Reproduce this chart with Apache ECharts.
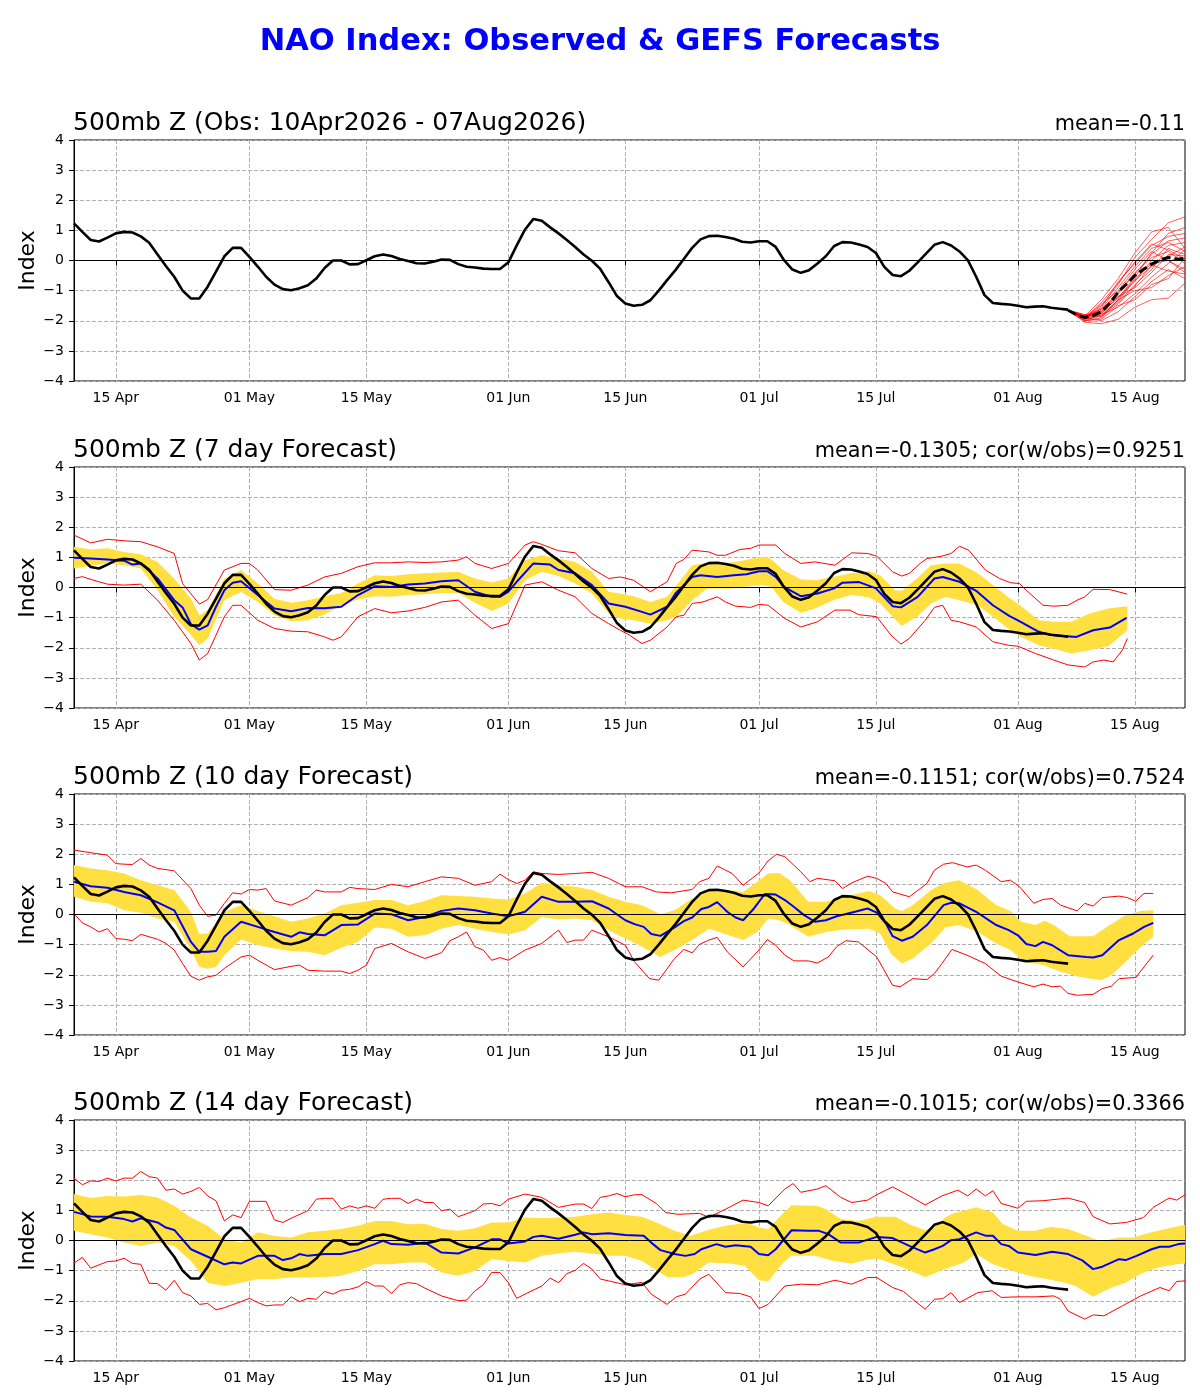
<!DOCTYPE html>
<html>
<head>
<meta charset="utf-8">
<script src="https://cdn.jsdelivr.net/npm/echarts@6/dist/echarts.min.js"></script>
<style>
html, body { margin: 0; padding: 0; background: #fff; }
#main { width: 1200px; height: 1400px; }
</style>
</head>
<body>
<div id="main"></div>
<script>
// x 轴: 距 2026-04-10 的天数
const tickDays = [5, 21, 35, 52, 66, 82, 96, 113, 127]
const tickLabels = ['15 Apr', '01 May', '15 May', '01 Jun', '15 Jun', '01 Jul', '15 Jul', '01 Aug', '15 Aug']

const panelTitles = ['500mb Z (Obs: 10Apr2026 - 07Aug2026)', '500mb Z (7 day Forecast)', '500mb Z (10 day Forecast)', '500mb Z (14 day Forecast)']
const panelStats = ['mean=-0.11', 'mean=-0.1305; cor(w/obs)=0.9251', 'mean=-0.1151; cor(w/obs)=0.7524', 'mean=-0.1015; cor(w/obs)=0.3366']

// 观测值 (每日, 从第0天开始)
const obs = [
  1.23, 0.95, 0.68, 0.63, 0.76, 0.9, 0.95, 0.93, 0.8, 0.59,
  0.2, -0.18, -0.54, -1.0, -1.26, -1.26, -0.87, -0.37, 0.14, 0.42,
  0.42, 0.12, -0.2, -0.54, -0.8, -0.95, -0.99, -0.92, -0.82, -0.6,
  -0.25, 0.0, 0.0, -0.13, -0.12, 0.01, 0.14, 0.2, 0.15, 0.05,
  -0.02, -0.09, -0.1, -0.04, 0.03, 0.02, -0.12, -0.21, -0.23, -0.27,
  -0.28, -0.28, -0.06, 0.5, 1.03, 1.38, 1.32, 1.1, 0.9, 0.68,
  0.45, 0.2, -0.01, -0.28, -0.72, -1.18, -1.43, -1.5, -1.47, -1.32,
  -1.0, -0.65, -0.32, 0.05, 0.42, 0.7, 0.81, 0.82, 0.78, 0.72,
  0.62, 0.6, 0.64, 0.64, 0.45, 0.01, -0.3, -0.41, -0.32, -0.1,
  0.14, 0.48, 0.61, 0.6, 0.53, 0.45, 0.25, -0.21, -0.48, -0.52,
  -0.34, -0.06, 0.23, 0.52, 0.61, 0.5, 0.3, 0.01, -0.54, -1.15,
  -1.41, -1.44, -1.46, -1.5, -1.55, -1.53, -1.52, -1.57, -1.6, -1.63
]

// GEFS 集合预报 (第1幅图)
const ensMeanStart = 119
const ensMean = [-1.65, -1.8, -1.89, -1.83, -1.7, -1.42, -1.05, -0.78, -0.5, -0.3, -0.12, 0.02, 0.1, 0.04, 0.07]
const ensDays = [119, 121, 123, 125, 127, 129, 131, 133]
const ensMembers = [
  [-1.65, -1.85, -1.3, -0.6, 0.25, 0.95, 1.1, 0.4],
  [-1.65, -1.9, -1.5, -0.8, 0.1, 0.7, 1.25, 1.45],
  [-1.65, -1.95, -1.6, -0.9, -0.2, 0.4, 0.6, 0.3],
  [-1.65, -1.8, -1.7, -1.1, -0.4, 0.1, 0.3, -0.1],
  [-1.65, -2.0, -1.9, -1.3, -0.6, -0.1, 0.0, -0.3],
  [-1.65, -1.85, -1.75, -1.2, -0.9, -0.4, 0.2, 0.15],
  [-1.65, -1.9, -2.0, -1.7, -1.2, -0.7, -0.3, -0.6],
  [-1.65, -2.05, -2.1, -1.95, -1.55, -1.3, -1.25, -0.75],
  [-1.65, -1.85, -1.6, -1.2, -0.7, 0.0, 0.5, 0.6],
  [-1.65, -1.9, -1.8, -1.4, -0.8, -0.3, 0.4, 0.2],
  [-1.65, -1.95, -1.55, -0.7, -0.1, 0.5, 0.8, 0.9],
  [-1.65, -1.8, -1.85, -1.3, -1.0, -0.9, -0.5, -0.2],
  [-1.65, -1.9, -1.45, -1.0, -0.3, 0.3, 0.0, -0.4],
  [-1.65, -2.0, -1.95, -1.5, -1.3, -0.8, -0.6, 0.1],
  [-1.65, -1.85, -1.65, -1.05, -0.45, 0.2, 0.65, 0.75],
  [-1.65, -1.95, -1.75, -1.35, -0.65, -0.2, 0.15, 0.45],
  [-1.65, -1.9, -1.4, -0.75, -0.05, 0.55, 0.35, 0.05],
  [-1.65, -2.0, -1.8, -1.55, -1.1, -0.55, -0.1, 0.35],
  [-1.65, -1.85, -1.7, -1.25, -0.55, 0.25, 0.9, 1.1],
  [-1.65, -1.95, -1.85, -1.45, -0.85, -0.15, -0.35, -0.45]
]

// 7 天预报: [天, 值]
const p7Blue = [[0,0.99],[2,0.96],[4,0.93],[6,0.89],[7,0.76],[8,0.8],[10,0.3],[12,-0.42],[13,-0.66],[14,-1.22],[15,-1.4],[16,-1.26],[17,-0.64],[18,-0.09],[19,0.16],[20,0.21],[22,-0.25],[24,-0.7],[26,-0.79],[28,-0.68],[30,-0.69],[32,-0.64],[34,-0.25],[36,0.04],[38,0.02],[40,0.1],[42,0.13],[44,0.21],[46,0.24],[48,-0.14],[50,-0.31],[51,-0.31],[52,-0.14],[53,0.19],[55,0.8],[56,0.78],[57,0.76],[58,0.58],[60,0.47],[62,0.08],[64,-0.53],[66,-0.64],[68,-0.81],[69,-0.9],[71,-0.64],[72,-0.2],[74,0.35],[75,0.41],[77,0.35],[79,0.41],[80.5,0.44],[82,0.54],[83,0.54],[84,0.35],[85,0.02],[87,-0.29],[89,-0.2],[91,-0.03],[92,0.16],[94,0.18],[96,-0.03],[98,-0.62],[99,-0.66],[101,-0.31],[103,0.3],[104,0.35],[106,0.19],[108,-0.11],[110,-0.59],[112,-0.95],[113,-1.09],[115.5,-1.47],[117,-1.58],[120,-1.64],[122,-1.42],[124,-1.33],[126,-1.01]]
const p7Hi = [[0,1.35],[2,1.26],[4,1.3],[6,1.18],[8,1.1],[10,0.85],[12,0.3],[14,-0.37],[15,-0.92],[16,-0.75],[18,0.3],[20,0.58],[22,0.13],[24,-0.37],[26,-0.51],[28,-0.42],[30,-0.29],[32,-0.18],[34,0.13],[36,0.41],[38,0.38],[40,0.44],[42,0.47],[44,0.5],[46,0.52],[48,0.3],[50,0.17],[52,0.3],[54,0.91],[56,1.07],[58,0.96],[60,0.85],[62,0.52],[64,-0.14],[65.4,-0.2],[67,-0.29],[69,-0.48],[71,-0.31],[72.3,0.13],[74,0.74],[75.8,0.82],[78.5,0.82],[80,0.89],[82.3,1.02],[83.2,1.0],[84.9,0.58],[87,0.27],[88.7,0.24],[90.9,0.35],[93,0.47],[95.2,0.55],[96.5,0.41],[98.3,-0.09],[99.1,-0.11],[100.9,0.3],[102.6,0.74],[104.3,0.8],[106,0.8],[108.2,0.47],[110,0.08],[112.1,-0.37],[113.4,-0.62],[115.5,-1.09],[117.3,-1.14],[119.4,-1.14],[121.6,-0.86],[123.8,-0.7],[126.1,-0.62]]
const p7Lo = [[0,0.63],[2,0.71],[4,0.8],[6,0.74],[8,0.63],[10,-0.09],[12,-0.97],[14,-1.58],[15,-1.92],[16,-1.69],[18,-0.42],[20,-0.14],[22,-0.48],[24,-0.92],[26,-1.12],[28,-1.09],[30,-0.9],[32,-0.59],[34,-0.4],[36,-0.29],[38,-0.31],[40,-0.25],[42,-0.22],[44,-0.18],[46,-0.18],[48,-0.51],[50,-0.78],[52,-0.53],[54,0.24],[56,0.52],[58,0.38],[60,0.13],[62,-0.2],[64,-0.86],[65.4,-1.03],[67,-1.09],[69,-1.2],[71,-1.09],[72.3,-0.92],[74,-0.42],[75.8,-0.03],[78.5,-0.03],[80,0.02],[82.3,0.08],[83.5,0.02],[84.9,-0.48],[87,-0.84],[88.7,-0.7],[90.9,-0.42],[93,-0.25],[95.2,-0.33],[96.5,-0.53],[98.3,-1.05],[99.1,-1.28],[100.9,-0.97],[102.6,-0.53],[104.3,-0.31],[106,-0.42],[108.2,-0.59],[110,-0.97],[112.1,-1.42],[113.4,-1.64],[115.5,-1.92],[117.3,-2.03],[119.4,-2.19],[121.6,-2.08],[123.8,-1.95],[126.1,-1.42]]
const p7RedHi = [[0,1.74],[2,1.48],[4,1.6],[6,1.55],[8,1.52],[10,1.35],[12,1.13],[13,0.13],[15,-0.55],[16,-0.4],[18,0.58],[20,0.8],[21,0.8],[22,0.58],[24,-0.07],[26,-0.09],[28,0.08],[30,0.35],[32,0.47],[34,0.69],[36,0.82],[38,0.82],[40,0.85],[42,0.83],[44,0.85],[46,0.91],[47,1.02],[48,0.8],[50,0.63],[52,0.8],[54,1.41],[55,1.52],[56,1.43],[58,1.22],[60,1.15],[62,0.63],[64,0.3],[65.4,0.35],[67,0.24],[69,-0.14],[71,0.19],[72.1,0.8],[73,0.93],[74,1.24],[76,1.18],[77,1.07],[78,1.07],[79.7,1.26],[81,1.3],[82,1.41],[84,1.41],[85.1,1.13],[87,0.8],[88.7,0.85],[91.1,0.74],[93.1,1.15],[95,1.13],[96.1,1.04],[98,0.52],[99.1,0.38],[100,0.47],[101.3,0.8],[102.1,0.96],[103.9,1.04],[105,1.13],[106,1.37],[107.1,1.24],[109.1,0.58],[110.8,0.3],[112.1,0.16],[113.2,0.13],[114,-0.09],[116,-0.59],[117.3,-0.62],[119,-0.59],[120.1,-0.42],[121,-0.31],[122,-0.06],[124,-0.07],[126.1,-0.22]]
const p7RedLo = [[0,0.3],[1,0.36],[2,0.27],[4,0.11],[6,0.08],[8,0.11],[10,-0.42],[12,-1.09],[14,-1.86],[15,-2.41],[16,-2.19],[18,-0.97],[19,-0.59],[20,-0.59],[22,-1.09],[24,-1.36],[26,-1.45],[28,-1.47],[30,-1.64],[31,-1.75],[32,-1.64],[34,-0.97],[36,-0.7],[38,-0.84],[40,-0.78],[42,-0.66],[44,-0.48],[46,-0.42],[48,-0.92],[50,-1.36],[52,-1.2],[54,0.08],[56,0.19],[58,-0.09],[60,-0.31],[62,-0.86],[64,-1.2],[65.4,-1.42],[66.5,-1.58],[68,-1.86],[69,-1.75],[71,-1.31],[72.1,-0.97],[73,-0.92],[74,-0.53],[75.3,-0.48],[77,-0.31],[78,-0.48],[79.2,-0.62],[81,-0.66],[82,-0.56],[83.1,-0.59],[85.1,-1.03],[87,-1.31],[89,-1.14],[91.1,-0.75],[92.9,-0.75],[93.9,-0.9],[96.1,-0.97],[97.8,-1.58],[99,-1.88],[100,-1.69],[101.9,-1.09],[103,-0.66],[104,-0.59],[105,-1.09],[106,-1.14],[108,-1.31],[110,-1.8],[111.9,-1.92],[113,-1.95],[115.1,-2.19],[117.3,-2.41],[119,-2.57],[121,-2.64],[122,-2.47],[123.3,-2.41],[124.4,-2.47],[125.5,-2.08],[126.1,-1.69]]

// 10 天预报
const p10Blue = [[0,1.09],[2,0.94],[4,0.89],[6,0.75],[8,0.64],[10,0.4],[12,0.14],[14,-0.91],[15,-1.24],[16,-1.24],[17,-1.21],[18,-0.74],[20,-0.24],[22,-0.41],[24,-0.58],[26,-0.74],[27,-0.59],[28,-0.65],[30,-0.69],[32,-0.35],[34,-0.33],[36,0.03],[38,0.01],[40,-0.19],[42,-0.08],[44,0.12],[46,0.2],[48,0.14],[50,0.03],[52,-0.06],[54,0.09],[56,0.59],[58,0.42],[60,0.42],[62,0.44],[64,0.2],[66,-0.19],[67.1,-0.32],[68.2,-0.41],[69.1,-0.65],[70.2,-0.71],[71.9,-0.43],[73,-0.22],[74,-0.1],[75.1,0.18],[76,0.25],[77,0.41],[78.2,0.09],[79.2,-0.1],[80.1,-0.19],[81.4,0.2],[82.7,0.68],[84,0.66],[85.1,0.48],[86.2,0.25],[87.4,-0.02],[88.7,-0.24],[90,-0.19],[91.3,-0.06],[93.5,0.09],[95,0.2],[96.1,0.06],[97.2,-0.3],[98,-0.72],[99.1,-0.87],[100.4,-0.74],[102.1,-0.35],[104.1,0.31],[105,0.39],[106,0.37],[108,0.09],[110.4,-0.35],[111.9,-0.52],[113,-0.69],[114,-0.98],[115.1,-1.05],[116,-0.91],[117.1,-1.02],[119,-1.35],[121.2,-1.41],[122,-1.43],[123.1,-1.35],[125.1,-0.85],[126.8,-0.63],[128.1,-0.41],[129.2,-0.28]]
const p10Hi = [[0,1.64],[2,1.53],[4,1.47],[6,1.36],[8,1.14],[10,0.97],[12,0.81],[14,0.09],[15,-0.65],[16,-0.63],[18,0.09],[20,0.31],[22,0.12],[24,-0.06],[26,-0.24],[28,-0.13],[30,0.03],[32,0.31],[34,0.39],[36,0.48],[38,0.48],[40,0.31],[42,0.45],[44,0.64],[46,0.61],[48,0.59],[50,0.53],[52,0.5],[54,0.7],[56,1.05],[58,0.97],[60,0.92],[62,0.81],[64,0.59],[66,0.42],[68,0.31],[70.2,0.01],[71.9,0.14],[74,0.53],[76.2,0.81],[78.4,0.81],[80.1,0.75],[81.8,1.09],[83.1,1.36],[84.4,1.38],[85.7,1.14],[87.9,0.42],[90,0.42],[92.2,0.59],[95.2,0.78],[96.5,0.64],[98.3,0.2],[99.1,0.12],[100.4,0.31],[102.6,0.81],[104.3,1.05],[106,1.14],[108.2,0.81],[110.4,0.31],[112.1,0.12],[113.4,-0.24],[115.1,-0.35],[116.2,-0.21],[117.3,-0.35],[119.2,-0.72],[122,-0.72],[124,-0.35],[125.9,-0.02],[127.7,0.12],[129.2,0.14]]
const p10Lo = [[0,0.59],[2,0.42],[4,0.37],[6,0.14],[8,0.06],[10,-0.13],[12,-0.24],[14,-1.18],[15,-1.74],[16,-1.8],[17,-1.74],[18,-1.35],[20,-0.83],[22,-1.02],[24,-1.13],[26,-1.22],[28,-1.24],[30,-1.35],[32,-1.1],[34,-0.91],[36,-0.43],[38,-0.47],[40,-0.74],[42,-0.69],[44,-0.47],[46,-0.35],[48,-0.47],[50,-0.58],[52,-0.66],[54,-0.52],[56,-0.08],[58,-0.17],[60,-0.13],[62,-0.19],[64,-0.52],[66,-0.8],[68,-1.07],[70.2,-1.41],[71.9,-1.18],[74,-0.85],[76,-0.47],[78.4,-0.69],[80.1,-0.85],[81.8,-0.58],[83.1,-0.13],[84.4,-0.19],[85.7,-0.35],[87.9,-0.74],[90,-0.58],[92.2,-0.5],[95.2,-0.47],[96.5,-0.63],[97.8,-1.3],[99.1,-1.63],[100.4,-1.46],[102.6,-0.96],[104.3,-0.43],[106,-0.35],[108.2,-0.58],[110.4,-0.96],[112.1,-1.18],[113.8,-1.57],[116,-1.68],[118.1,-1.9],[120.3,-2.07],[122.9,-2.18],[124.2,-2.02],[125.9,-1.57],[127.7,-1.07],[129.2,-0.74]]
const p10RedHi = [[0,2.14],[2,2.05],[4,1.97],[5,1.69],[6,1.67],[7,1.66],[8,1.86],[9,1.64],[10,1.53],[12,1.45],[14,0.86],[15,0.31],[16,-0.06],[17,-0.02],[18,0.37],[19,0.72],[20,0.68],[21,0.83],[22,0.81],[23,0.86],[24,0.45],[26,0.31],[28,0.56],[29,0.81],[30,0.75],[32,0.75],[33,0.9],[34,0.86],[36,0.83],[38,1.0],[40,0.92],[42,1.09],[44,1.25],[46,1.2],[48,0.97],[50,1.09],[51,1.34],[52,1.16],[53,1.03],[54,1.14],[55,1.42],[56,1.36],[58,1.33],[60,1.36],[62,1.4],[64,1.2],[66,0.92],[68,0.92],[69.7,0.75],[71.5,0.72],[74,0.83],[74.9,1.09],[76,1.2],[77,1.61],[78.8,1.36],[80.1,0.97],[82,1.38],[83.1,1.78],[84.1,2.0],[85.1,1.92],[87,1.42],[88.1,1.09],[89,1.2],[91.1,1.12],[92,0.86],[93.1,1.05],[95,1.27],[96.1,1.2],[97.2,1.03],[98,0.75],[100,0.59],[101.3,0.86],[102.1,1.03],[103,1.47],[104.1,1.67],[105.2,1.72],[106.9,1.58],[108,1.64],[109.1,1.47],[111,1.09],[112.1,1.14],[113.2,0.92],[114.9,0.37],[116,0.5],[117.1,0.53],[118.1,0.31],[120.1,0.12],[121,0.37],[122,0.28],[123.1,0.56],[125.1,0.61],[126.1,0.56],[127.1,0.44],[128.1,0.7],[129.2,0.7]]
const p10RedLo = [[0,0.03],[1,-0.28],[2,-0.41],[3,-0.58],[4,-0.47],[5,-0.8],[6,-0.82],[7,-0.87],[8,-0.66],[9,-0.74],[10,-0.82],[11,-0.96],[12,-1.18],[13,-1.63],[14,-2.05],[15,-2.18],[16,-2.07],[17,-2.02],[18,-1.79],[20,-1.41],[21,-1.35],[22,-1.52],[24,-1.83],[26,-1.72],[27,-1.68],[28,-1.85],[30,-1.88],[32,-1.88],[33,-1.96],[34,-1.85],[35,-1.68],[36,-1.13],[38,-0.96],[40,-1.24],[42,-1.46],[44,-1.27],[45,-0.87],[46,-0.74],[47,-0.58],[48,-1.07],[49,-1.18],[50,-1.52],[51,-1.43],[52,-1.52],[54,-1.18],[56,-0.96],[58,-0.52],[59,-0.93],[60,-0.85],[61,-0.85],[62,-0.52],[64,-0.74],[66,-1.02],[67.1,-1.57],[68.9,-2.13],[70,-2.18],[71.9,-1.46],[73,-1.16],[74,-1.27],[74.9,-0.99],[76,-0.85],[77,-0.76],[78.2,-1.24],[80.1,-1.74],[82,-1.18],[83,-0.83],[84,-1.02],[85.1,-1.35],[86.2,-1.54],[87.9,-1.54],[89,-1.61],[90.3,-1.41],[91.3,-1.07],[92.4,-0.87],[93.9,-0.91],[96.1,-1.41],[98,-2.35],[98.9,-2.4],[100.4,-2.13],[102.1,-2.16],[103,-1.96],[103.9,-1.63],[105.1,-1.16],[106.9,-1.35],[109.1,-1.63],[111,-2.05],[113,-2.24],[114.9,-2.4],[116,-2.31],[117.1,-2.4],[118.1,-2.38],[119,-2.62],[120.1,-2.68],[122,-2.65],[123.1,-2.46],[124.2,-2.38],[125.1,-2.13],[127.1,-2.09],[128.1,-1.74],[129.2,-1.35]]

// 14 天预报
const p14Blue = [[0,0.95],[2,0.8],[4,0.79],[6,0.71],[7,0.63],[8,0.74],[10,0.6],[11,0.43],[12,0.35],[14,-0.29],[16,-0.54],[18,-0.79],[19,-0.73],[20,-0.76],[22,-0.51],[24,-0.51],[25,-0.65],[26,-0.59],[27,-0.45],[28,-0.51],[30,-0.45],[32,-0.45],[34,-0.32],[36,-0.12],[37,-0.01],[38,-0.12],[40,-0.14],[42,-0.07],[44,-0.4],[46,-0.43],[48,-0.23],[50,0.04],[51,0.04],[52,-0.1],[54,-0.03],[55,0.12],[56,0.16],[58,0.06],[60,0.19],[61,0.27],[62,0.21],[64,0.24],[66,0.18],[68.2,0.16],[69.1,-0.07],[70.2,-0.32],[71.9,-0.45],[73.2,-0.51],[74.3,-0.45],[75.1,-0.29],[76.9,-0.12],[78,-0.21],[79.2,-0.16],[81,-0.21],[82,-0.45],[83.1,-0.49],[84,-0.29],[85.9,0.34],[87.9,0.32],[89.2,0.32],[90.3,0.21],[91.8,-0.07],[93.9,-0.07],[96.1,0.12],[98,0.08],[100,-0.18],[101.9,-0.4],[103,-0.29],[104,-0.18],[105,0.01],[106,0.04],[108,0.27],[109.1,0.16],[110,0.16],[111,-0.12],[111.9,-0.18],[113,-0.4],[115.1,-0.48],[117.1,-0.37],[119,-0.45],[120.7,-0.66],[122,-0.95],[123.1,-0.87],[125.1,-0.62],[125.9,-0.65],[127.2,-0.51],[129,-0.29],[130,-0.21],[131.1,-0.21],[132.2,-0.12],[133,-0.1]]
const p14Hi = [[0,1.54],[2,1.41],[4,1.48],[6,1.46],[8,1.51],[10,1.43],[12,1.15],[14,0.76],[16,0.49],[18,0.04],[20,-0.07],[22,0.27],[24,0.15],[26,0.1],[28,0.27],[30,0.32],[32,0.38],[34,0.49],[36,0.65],[38,0.65],[40,0.54],[42,0.56],[44,0.38],[46,0.32],[48,0.41],[50,0.6],[52,0.6],[54,0.76],[56,0.74],[58,0.76],[60,0.79],[62,0.87],[64,0.93],[66,0.85],[68,0.79],[69.7,0.6],[71.9,0.32],[73.8,0.16],[75.8,0.34],[78,0.49],[79.7,0.56],[81,0.54],[82,0.43],[83.1,0.38],[84.4,0.76],[85.9,1.17],[89,1.15],[90,1.04],[91.8,0.71],[93.9,0.65],[96.1,0.79],[98.3,0.79],[100,0.54],[101.9,0.34],[103,0.43],[104.3,0.76],[105.2,0.9],[108,1.1],[110,0.93],[111.2,0.54],[113,0.32],[115.1,0.32],[116.9,0.45],[119,0.38],[121.2,0.16],[122.9,-0.03],[125.1,0.1],[126.8,0.1],[129,0.27],[131.1,0.41],[133,0.52]]
const p14Lo = [[0,0.32],[2,0.21],[4,0.1],[6,-0.07],[8,-0.18],[10,-0.07],[12,-0.18],[14,-0.68],[16,-1.4],[18,-1.51],[20,-1.4],[22,-1.28],[24,-1.28],[26,-1.23],[28,-1.23],[30,-1.21],[32,-1.17],[34,-1.01],[36,-0.79],[38,-0.79],[40,-0.73],[42,-0.73],[44,-1.06],[46,-1.17],[48,-1.01],[50,-0.62],[52,-0.68],[54,-0.73],[56,-0.51],[58,-0.43],[60,-0.37],[62,-0.43],[64,-0.51],[66,-0.51],[68,-0.68],[69.7,-0.99],[71,-1.21],[73,-1.21],[74,-1.12],[76,-0.73],[78.4,-0.76],[80.3,-0.84],[82,-1.32],[83.1,-1.36],[84.9,-0.73],[85.9,-0.51],[88.7,-0.51],[90.9,-0.68],[93.1,-0.76],[95.2,-0.62],[96.5,-0.62],[99.1,-0.89],[101.9,-1.21],[104.3,-0.95],[106.5,-0.73],[108,-0.45],[110,-0.79],[112.1,-0.99],[114.3,-1.17],[116.4,-1.28],[118.6,-1.4],[119.9,-1.51],[122,-1.87],[124.2,-1.56],[125.9,-1.4],[127.7,-1.1],[129.8,-0.9],[132,-0.79],[133,-0.76]]
const p14RedHi = [[0,2.07],[1,1.85],[2,1.98],[3,1.96],[4,2.07],[5,1.98],[6,2.07],[7,2.07],[8,2.29],[9,2.12],[10,2.07],[11,1.67],[12,1.71],[13,1.54],[14,1.63],[15,1.76],[16,1.48],[17,1.32],[18,0.65],[19,0.85],[20,0.76],[21,1.3],[22,1.3],[23,1.3],[24,0.68],[25,0.6],[26,0.74],[28,0.99],[29,1.37],[30,1.4],[31,1.4],[32,1.04],[33,1.15],[34,1.07],[35,1.15],[36,1.07],[37,1.37],[38,1.4],[39,1.4],[40,1.23],[41,1.37],[42,1.26],[43,1.26],[44,0.99],[45,1.04],[46,0.79],[48,0.99],[49,1.21],[50,1.23],[51,1.15],[52,1.37],[54,1.54],[56,1.43],[58,1.1],[60,1.21],[61,1.21],[62,1.06],[63,1.43],[64,1.48],[65,1.56],[66,1.45],[67.1,1.52],[68,1.52],[69.7,1.23],[70.8,0.93],[72.3,0.87],[74.9,0.9],[76,0.77],[78,1.04],[80.1,1.34],[82,1.26],[83.1,1.15],[85.1,1.71],[86.1,1.89],[87,1.6],[89,1.71],[90,1.82],[91.8,1.43],[93.1,1.26],[95,1.34],[96.1,1.52],[98,1.78],[100,1.48],[101.9,1.18],[103.9,1.48],[105.8,1.67],[107,1.48],[108,1.71],[109.1,1.48],[110,1.65],[111,1.23],[113,1.07],[114,1.3],[116,1.32],[119,1.41],[121,1.26],[122,0.79],[124,0.55],[126,0.6],[128,0.76],[129.2,1.1],[131.1,1.41],[132,1.34],[133,1.52]]
const p14RedLo = [[0,-0.75],[1,-0.56],[2,-0.92],[3,-0.81],[4,-0.7],[5,-0.68],[6,-0.59],[7,-0.76],[8,-0.79],[9,-1.42],[10,-1.43],[11,-1.65],[12,-1.32],[13,-1.73],[14,-1.84],[15,-2.12],[16,-2.09],[17,-2.3],[18,-2.23],[20,-2.03],[21,-1.92],[22,-2.06],[23,-2.17],[24,-2.14],[25,-2.14],[26,-1.87],[27,-2.03],[28,-1.92],[29,-1.95],[30,-1.69],[31,-1.78],[32,-1.65],[33,-1.62],[34,-1.54],[35,-1.36],[36,-1.51],[37,-1.51],[38,-1.76],[39,-1.47],[40,-1.4],[41,-1.43],[42,-1.58],[44,-1.84],[46,-2.0],[47,-1.98],[48,-1.67],[49,-1.47],[50,-1.06],[51,-1.06],[52,-1.4],[53,-1.92],[54,-1.78],[56,-1.51],[57,-1.25],[58,-1.4],[59,-1.1],[60,-0.99],[61,-0.76],[62,-0.95],[63,-1.28],[64,-1.34],[66,-1.47],[68,-1.39],[69.1,-1.78],[71,-2.12],[72.1,-1.87],[73.2,-1.78],[74.9,-1.28],[76,-1.12],[78,-1.73],[79.7,-1.76],[81,-1.87],[82,-2.26],[83.1,-2.12],[85.1,-1.51],[87,-1.45],[89,-1.47],[91.1,-1.32],[93.1,-1.45],[95,-1.23],[96.1,-1.23],[98,-1.56],[99.3,-1.69],[100.4,-1.95],[101.9,-2.28],[103,-1.95],[104,-1.93],[105,-1.73],[106,-2.06],[108.2,-1.73],[109.9,-1.67],[111,-1.89],[113,-1.87],[115.1,-1.87],[117.3,-1.84],[118.1,-1.95],[119,-2.34],[121,-2.61],[122,-2.47],[123.3,-2.5],[125.5,-2.17],[127.7,-1.84],[130,-1.56],[131.1,-1.67],[132,-1.36],[133,-1.34]]

const forecasts = [
  { blue: p7Blue, hi: p7Hi, lo: p7Lo, redHi: p7RedHi, redLo: p7RedLo },
  { blue: p10Blue, hi: p10Hi, lo: p10Lo, redHi: p10RedHi, redLo: p10RedLo },
  { blue: p14Blue, hi: p14Hi, lo: p14Lo, redHi: p14RedHi, redLo: p14RedLo }
]

const panelTops = [140, 467, 794, 1120]
const font = 'DejaVu Sans'

const minus = v => (v < 0 ? '\u2212' + (-v) : String(v))

const lineSeries = (i, data, color, width, z, extra) => Object.assign({
  type: 'line',
  xAxisIndex: i,
  yAxisIndex: i,
  data: data,
  showSymbol: false,
  symbol: 'none',
  silent: true,
  z: z,
  lineStyle: { color: color, width: width }
}, extra || {})

// 黄色区间: 用多边形画 hi / lo 之间的区域
const bandSeries = (i, hi, lo) => ({
  type: 'custom',
  xAxisIndex: i,
  yAxisIndex: i,
  silent: true,
  z: 1,
  clip: true,
  data: [[hi[0][0], hi[0][1]]],
  renderItem (params, api) {
    const pts = hi.map(p => api.coord(p)).concat(lo.slice().reverse().map(p => api.coord(p)))
    return { type: 'polygon', shape: { points: pts }, style: { fill: '#ffe040' } }
  }
})

const obsData = obs.map((v, d) => [d, v])
const zeroLine = {
  silent: true,
  symbol: 'none',
  label: { show: false },
  lineStyle: { color: '#000', width: 1, type: 'solid' },
  data: [{ yAxis: 0 }]
}

const series = []
// 第1幅: 观测 + 集合成员
ensMembers.forEach(m => {
  series.push(lineSeries(0, m.map((v, k) => [ensDays[k], v]), 'rgba(255,0,0,0.8)', 0.8, 2))
})
series.push(lineSeries(0, obsData, '#000', 2.6, 4, { markLine: zeroLine }))
series.push(lineSeries(0, ensMean.map((v, k) => [ensMeanStart + k, v]), '#000', 3, 5, {
  lineStyle: { color: '#000', width: 3, type: [9, 4] }
}))

forecasts.forEach((f, k) => {
  const i = k + 1
  series.push(bandSeries(i, f.hi, f.lo))
  series.push(lineSeries(i, f.redHi, '#ff0000', 1, 2))
  series.push(lineSeries(i, f.redLo, '#ff0000', 1, 2))
  series.push(lineSeries(i, f.blue, '#0000ff', 2, 3))
  series.push(lineSeries(i, obsData, '#000', 2.6, 4, { markLine: zeroLine }))
})

const myEcharts = echarts.init(document.getElementById('main'), null, { renderer: 'canvas' })
const option = {
  animation: false,
  backgroundColor: '#fff',
  title: [
    {
      text: 'NAO Index: Observed & GEFS Forecasts',
      left: 'center',
      top: 27,
      padding: 0,
      textStyle: { color: '#0000ff', fontSize: 30.5, fontWeight: 'bold', fontFamily: font }
    }
  ].concat(panelTitles.map((t, i) => ({
    text: t,
    left: 73,
    top: panelTops[i] - 29,
    padding: 0,
    textStyle: { color: '#000', fontSize: 25, fontWeight: 'normal', fontFamily: font }
  }))).concat(panelStats.map((t, i) => ({
    text: t,
    right: 15,
    top: panelTops[i] - 26,
    padding: 0,
    textStyle: { color: '#000', fontSize: 20.8, fontWeight: 'normal', fontFamily: font }
  }))),
  grid: panelTops.map(t => ({
    left: 74,
    right: 15,
    top: t,
    height: 241,
    show: true,
    borderColor: '#000',
    borderWidth: 1,
    backgroundColor: 'transparent'
  })),
  xAxis: panelTops.map((t, i) => ({
    type: 'value',
    gridIndex: i,
    min: 0,
    max: 133,
    axisLine: { show: true, lineStyle: { color: '#000', width: 1 } },
    axisTick: { show: true, customValues: tickDays, length: 5, lineStyle: { color: '#000' } },
    axisLabel: {
      customValues: tickDays,
      margin: 10,
      color: '#000',
      fontSize: 14,
      fontFamily: font,
      formatter: v => tickLabels[tickDays.indexOf(v)]
    },
    splitLine: { show: true, lineStyle: { color: '#b0b0b0', width: 1, type: [4, 2] } }
  })),
  yAxis: panelTops.map((t, i) => ({
    type: 'value',
    gridIndex: i,
    min: -4,
    max: 4,
    interval: 1,
    name: 'Index',
    nameLocation: 'middle',
    nameGap: 35,
    nameMoveOverlap: false,
    nameTextStyle: { color: '#000', fontSize: 22, fontFamily: font },
    axisLine: { show: true, lineStyle: { color: '#000', width: 1 } },
    axisTick: { show: true, length: 5, lineStyle: { color: '#000' } },
    axisLabel: { margin: 10, color: '#000', fontSize: 14, fontFamily: font, formatter: minus },
    splitLine: { show: true, lineStyle: { color: '#b0b0b0', width: 1, type: [4, 2] } }
  })),
  series: series
}
myEcharts.setOption(option)
</script>
</body>
</html>
